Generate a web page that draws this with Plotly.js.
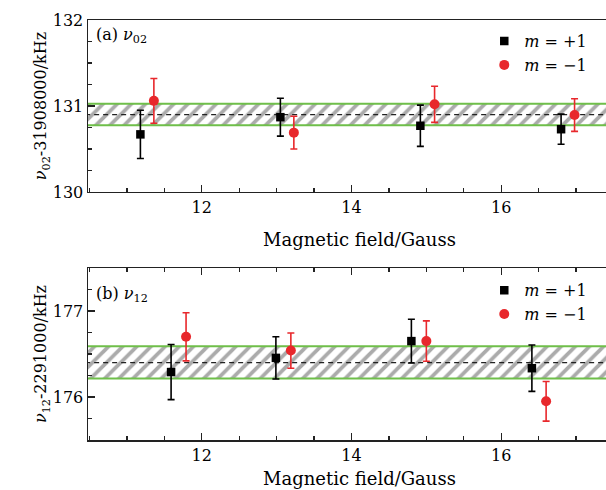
<!DOCTYPE html>
<html>
<head>
<meta charset="utf-8">
<script src="https://cdn.plot.ly/plotly-3.0.1.min.js"></script>
<style>html,body{margin:0;padding:0;background:#fff;}#chart{width:606px;height:490px;}</style>
</head>
<body>
<div id="chart"></div>
<script>
// Panel (a): nu_02 - 31908000 kHz
const xA_plus = [11.18, 13.05, 14.92, 16.80];
const yA_plus = [130.67, 130.87, 130.77, 130.73];
const eA_plus = [0.28, 0.22, 0.24, 0.175];
const xA_minus = [11.36, 13.23, 15.11, 16.98];
const yA_minus = [131.06, 130.69, 131.02, 130.895];
const eA_minus = [0.26, 0.19, 0.21, 0.19];
const bandA = [130.775, 131.025];
const meanA = 130.90;

// Panel (b): nu_12 - 2291000 kHz
const xB_plus = [11.59, 12.99, 14.80, 16.41];
const yB_plus = [176.29, 176.455, 176.65, 176.335];
const eB_plus = [0.32, 0.245, 0.255, 0.27];
const xB_minus = [11.79, 13.19, 15.00, 16.60];
const yB_minus = [176.70, 176.54, 176.65, 175.95];
const eB_minus = [0.28, 0.205, 0.235, 0.23];
const bandB = [176.215, 176.59];
const meanB = 176.40;

const xRange = [10.48, 17.4];
const yRangeA = [130, 132];
const yRangeB = [175.5, 177.5];
const legendLabels = ['<i>m</i> = +1', '<i>m</i> = \u22121'];
const xTitle = 'Magnetic field/Gauss';

const BLACK = '#000000', RED = '#e8282c', GREEN = '#6fbf4a';
const FONT = 'DejaVu Serif, serif';
const FS = 16;

const ext = [xRange[0] - 1, xRange[1] + 1];
function band(b, xa, ya) {
  return {
    x: [ext[0], ext[1], ext[1], ext[0], ext[0]],
    y: [b[0], b[0], b[1], b[1], b[0]],
    xaxis: xa, yaxis: ya, mode: 'lines', fill: 'toself',
    fillcolor: 'white',
    fillpattern: {shape: '/', fgcolor: '#ababab', bgcolor: 'white', size: 10, solidity: 0.38},
    line: {color: GREEN, width: 2}, showlegend: false, hoverinfo: 'skip'
  };
}
function meanLine(m, xa, ya) {
  return {x: [ext[0], ext[1]], y: [m, m], xaxis: xa, yaxis: ya, mode: 'lines',
    line: {color: '#222', width: 1.3, dash: '5px,4px'}, showlegend: false, hoverinfo: 'skip'};
}
function pts(x, y, e, color, symbol, size, name, xa, ya, leg) {
  return {x: x, y: y, xaxis: xa, yaxis: ya, mode: 'markers', name: name, legend: leg,
    marker: {color: color, symbol: symbol, size: size},
    error_y: {type: 'data', array: e, visible: true, color: color, thickness: 1.6, width: 3.5}};
}

const data = [
  band(bandA, 'x', 'y'), meanLine(meanA, 'x', 'y'),
  pts(xA_plus, yA_plus, eA_plus, BLACK, 'square', 8.5, legendLabels[0], 'x', 'y', 'legend'),
  pts(xA_minus, yA_minus, eA_minus, RED, 'circle', 10, legendLabels[1], 'x', 'y', 'legend'),
  band(bandB, 'x2', 'y2'), meanLine(meanB, 'x2', 'y2'),
  pts(xB_plus, yB_plus, eB_plus, BLACK, 'square', 8.5, legendLabels[0], 'x2', 'y2', 'legend2'),
  pts(xB_minus, yB_minus, eB_minus, RED, 'circle', 10, legendLabels[1], 'x2', 'y2', 'legend2')
];

function xax(anchor, mirror) {
  return {
    range: xRange, anchor: anchor, domain: [0, 1],
    showline: true, linecolor: '#222', linewidth: 1.5, mirror: mirror,
    ticks: 'inside', ticklen: 7, tickwidth: 1.2, tickcolor: '#222',
    dtick: 2, tick0: 0, showgrid: false, zeroline: false,
    minor: {dtick: 0.5, ticks: 'inside', ticklen: 4, tickwidth: 1.2, tickcolor: '#222', showgrid: false},
    tickfont: {family: FONT, size: FS, color: '#000'}
  };
}
function yax(anchor, range, dom, title) {
  return {
    range: range, anchor: anchor, domain: dom,
    showline: true, linecolor: '#222', linewidth: 1.5,
    ticks: 'inside', ticklen: 7, tickwidth: 1.2, tickcolor: '#222',
    dtick: 1, tick0: 0, showgrid: false, zeroline: false,
    minor: {dtick: 0.25, ticks: 'inside', ticklen: 4, tickwidth: 1.2, tickcolor: '#222', showgrid: false},
    tickfont: {family: FONT, size: FS, color: '#000'},
    title: {text: title, font: {family: FONT, size: FS, color: '#000'}, standoff: 0}
  };
}

const layout = {
  width: 606, height: 490,
  margin: {l: 88, r: 0, t: 20, b: 50},
  paper_bgcolor: 'white', plot_bgcolor: 'white',
  font: {family: FONT, color: '#000'},
  xaxis: xax('y', true),
  yaxis: yax('x', yRangeA, [0.5905, 1], '<i>\u03bd</i><sub>02</sub>-31908000/kHz'),
  xaxis2: xax('y2', 'ticks'),
  yaxis2: yax('x2', yRangeB, [0, 0.4095], '<i>\u03bd</i><sub>12</sub>-2291000/kHz'),
  legend: {x: 0.765, y: 0.99, xanchor: 'left', yanchor: 'top', bgcolor: 'rgba(0,0,0,0)',
    font: {family: FONT, size: FS}, tracegroupgap: 0, itemwidth: 30},
  legend2: {x: 0.765, y: 0.397, xanchor: 'left', yanchor: 'top', bgcolor: 'rgba(0,0,0,0)',
    font: {family: FONT, size: FS}, tracegroupgap: 0, itemwidth: 30},
  annotations: [
    {text: '(a) <i>\u03bd</i><sub>02</sub>', xref: 'x domain', yref: 'y domain', x: 0.012, y: 0.985,
      xanchor: 'left', yanchor: 'top', showarrow: false, font: {family: FONT, size: FS}},
    {text: '(b) <i>\u03bd</i><sub>12</sub>', xref: 'x2 domain', yref: 'y2 domain', x: 0.012, y: 0.92,
      xanchor: 'left', yanchor: 'top', showarrow: false, font: {family: FONT, size: FS}},
    {text: xTitle, xref: 'x domain', yref: 'y domain', x: 0.525, y: 0, yshift: -48,
      xanchor: 'center', yanchor: 'middle', showarrow: false, font: {family: FONT, size: 18}},
    {text: xTitle, xref: 'x2 domain', yref: 'y2 domain', x: 0.525, y: 0, yshift: -38,
      xanchor: 'center', yanchor: 'middle', showarrow: false, font: {family: FONT, size: 18}}
  ],
  showlegend: true
};

Plotly.newPlot('chart', data, layout, {displayModeBar: false, staticPlot: true});
</script>
</body>
</html>
